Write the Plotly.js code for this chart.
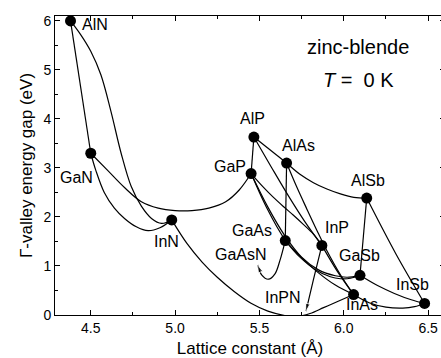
<!DOCTYPE html>
<html>
<head>
<meta charset="utf-8">
<script src="https://cdn.plot.ly/plotly-3.0.1.min.js"></script>
<style>html,body{margin:0;padding:0;overflow:hidden;background:#fff;}#chart{width:450px;height:358px;}</style>
</head>
<body>
<div id="chart"></div>
<script>
// ---- data ----
const compounds = ["AlN","GaN","InN","AlP","GaP","AlAs","GaAs","InP","AlSb","GaSb","InAs","InSb"];
const latticeConst = [4.38, 4.50, 4.98, 5.467, 5.4505, 5.661, 5.653, 5.87, 6.136, 6.096, 6.058, 6.479];
const gapEnergy   = [6.00, 3.30, 1.94, 3.63, 2.886, 3.10, 1.519, 1.42, 2.386, 0.81, 0.417, 0.235];

// alloy curves (lattice constant, gap)
const AlNGaN_x = [4.38, 4.50];                         const AlNGaN_y = [6.00, 3.30];
const AlNInN_x = [4.38, 4.44, 4.50, 4.56, 4.62, 4.68, 4.74, 4.80, 4.86, 4.92, 4.98];
const AlNInN_y = [6.00, 5.72, 5.38, 4.90, 4.15, 3.30, 2.62, 2.22, 1.97, 1.87, 1.94];
const GaNInN_x = [4.50, 4.53, 4.58, 4.64, 4.70, 4.77, 4.84, 4.91, 4.98];
const GaNInN_y = [3.30, 2.95, 2.50, 2.18, 1.97, 1.80, 1.72, 1.78, 1.94];
const GaNGaP_x = [4.50, 4.60, 4.70, 4.80, 4.90, 5.00, 5.10, 5.20, 5.30, 5.38, 5.4505];
const GaNGaP_y = [3.30, 2.95, 2.60, 2.31, 2.18, 2.13, 2.13, 2.18, 2.31, 2.55, 2.886];
const InNInAs_x = [4.98, 5.07, 5.16, 5.25, 5.35, 5.45, 5.55, 5.65, 5.72, 5.80, 5.88, 5.96, 6.058];
const InNInAs_y = [1.94, 1.46, 1.08, 0.77, 0.48, 0.24, 0.08, -0.01, -0.03, 0.03, 0.15, 0.27, 0.417];
const AlPGaP_x = [5.467, 5.4505];                      const AlPGaP_y = [3.63, 2.886];
const AlPAlAs_x = [5.467, 5.661];                      const AlPAlAs_y = [3.63, 3.10];
const AlAsAlSb_x = [5.661, 5.74, 5.82, 5.90, 5.98, 6.06, 6.136];
const AlAsAlSb_y = [3.10, 2.87, 2.70, 2.57, 2.47, 2.40, 2.386];
const AlAsGaAs_x = [5.661, 5.653];                     const AlAsGaAs_y = [3.10, 1.519];
const AlPInP_x = [5.467, 5.57, 5.67, 5.77, 5.87];      const AlPInP_y = [3.63, 3.02, 2.44, 1.90, 1.42];
const AlAsInAs_x = [5.661, 5.72, 5.78, 5.84, 5.90, 5.98, 6.058];
const AlAsInAs_y = [3.10, 2.62, 2.17, 1.73, 1.31, 0.82, 0.417];
const GaPGaAs_x = [5.4505, 5.50, 5.55, 5.60, 5.653];   const GaPGaAs_y = [2.886, 2.50, 2.14, 1.82, 1.519];
const GaPInP_x = [5.4505, 5.52, 5.58, 5.64, 5.70, 5.76, 5.82, 5.87];
const GaPInP_y = [2.886, 2.62, 2.41, 2.22, 2.04, 1.85, 1.65, 1.42];
const GaPGaSb_x = [5.4505, 5.55, 5.65, 5.75, 5.85, 5.95, 6.02, 6.096];
const GaPGaSb_y = [2.886, 2.20, 1.62, 1.18, 0.92, 0.80, 0.77, 0.81];
const GaAsInAs_x = [5.653, 5.75, 5.85, 5.95, 6.058];   const GaAsInAs_y = [1.519, 1.17, 0.86, 0.61, 0.417];
const GaAsGaSb_x = [5.653, 5.74, 5.83, 5.92, 5.98, 6.04, 6.096];
const GaAsGaSb_y = [1.519, 1.18, 0.93, 0.78, 0.74, 0.75, 0.81];
const InPInAs_x = [5.87, 5.96, 6.058];                 const InPInAs_y = [1.42, 0.90, 0.417];
const AlSbGaSb_x = [6.136, 6.096];                     const AlSbGaSb_y = [2.386, 0.81];
const AlSbInSb_x = [6.136, 6.31, 6.479];               const AlSbInSb_y = [2.386, 1.24, 0.235];
const GaSbInSb_x = [6.096, 6.20, 6.30, 6.40, 6.479];   const GaSbInSb_y = [0.81, 0.60, 0.44, 0.31, 0.235];
const InAsInSb_x = [6.058, 6.15, 6.25, 6.35, 6.42, 6.479];
const InAsInSb_y = [0.417, 0.25, 0.16, 0.14, 0.17, 0.235];
const GaAsN_x = [5.653, 5.622, 5.592, 5.553, 5.513, 5.49];
const GaAsN_y = [1.519, 1.12, 0.84, 0.73, 0.82, 1.02];
const InPN_x = [5.87, 5.82, 5.776];                    const InPN_y = [1.42, 0.72, 0.08];

// ---- styling ----
const FONT = "Liberation Sans, Arial, Helvetica, sans-serif";
const lineStyle = {color: "#000", width: 1.2, shape: "spline", smoothing: 1};

const curves = [
  [AlNGaN_x, AlNGaN_y], [AlNInN_x, AlNInN_y], [GaNInN_x, GaNInN_y], [GaNGaP_x, GaNGaP_y],
  [InNInAs_x, InNInAs_y], [AlPGaP_x, AlPGaP_y], [AlPAlAs_x, AlPAlAs_y], [AlAsAlSb_x, AlAsAlSb_y],
  [AlAsGaAs_x, AlAsGaAs_y], [AlPInP_x, AlPInP_y], [AlAsInAs_x, AlAsInAs_y], [GaPGaAs_x, GaPGaAs_y],
  [GaPInP_x, GaPInP_y], [GaPGaSb_x, GaPGaSb_y], [GaAsInAs_x, GaAsInAs_y], [GaAsGaSb_x, GaAsGaSb_y],
  [InPInAs_x, InPInAs_y], [AlSbGaSb_x, AlSbGaSb_y], [AlSbInSb_x, AlSbInSb_y], [GaSbInSb_x, GaSbInSb_y],
  [InAsInSb_x, InAsInSb_y]
];
const traces = curves.map(c => ({
  x: c[0], y: c[1], type: "scatter", mode: "lines", line: lineStyle, hoverinfo: "skip", showlegend: false
}));

function arrowTrace(xs, ys) {
  return {
    x: xs, y: ys, type: "scatter", mode: "lines+markers", line: lineStyle, showlegend: false,
    marker: {symbol: "arrow", angleref: "previous", color: "#000",
             size: xs.map((v, i) => i === xs.length - 1 ? 8 : 0)}
  };
}
traces.push(arrowTrace(GaAsN_x, GaAsN_y));
traces.push(arrowTrace(InPN_x, InPN_y));

traces.push({
  x: latticeConst, y: gapEnergy, type: "scatter", mode: "markers", showlegend: false,
  marker: {color: "#000", size: 11}
});

// label offsets in pixels (style, not data)
const labelShift = {
  AlN: [24, -4], GaN: [-14, -24], InN: [-5, -22], AlP: [-1, 19], GaP: [-21, 7], AlAs: [12, 18],
  GaAs: [-33, 10], InP: [15, 18], AlSb: [1, 18], GaSb: [0, 20], InAs: [8, -10], InSb: [-12, 19]
};
const labelFont = {family: FONT, size: 16, color: "#000"};
const annotations = compounds.map((name, i) => ({
  x: latticeConst[i], y: gapEnergy[i], xref: "x", yref: "y", text: name, showarrow: false,
  xanchor: "center", yanchor: "middle",
  xshift: labelShift[name][0], yshift: labelShift[name][1], font: labelFont
}));
annotations.push({x: GaAsN_x[GaAsN_x.length - 1], y: GaAsN_y[GaAsN_y.length - 1], xref: "x", yref: "y",
  text: "GaAsN", showarrow: false, xanchor: "center", yanchor: "middle", xshift: -17, yshift: 11, font: labelFont});
annotations.push({x: InPN_x[InPN_x.length - 1], y: InPN_y[InPN_y.length - 1], xref: "x", yref: "y",
  text: "InPN", showarrow: false, xanchor: "center", yanchor: "middle", xshift: -23, yshift: 14, font: labelFont});
annotations.push({x: 0.778, y: 0.897, xref: "paper", yref: "paper", text: "zinc-blende", showarrow: false,
  xanchor: "center", yanchor: "middle", font: {family: FONT, size: 20, color: "#000"}});
annotations.push({x: 0.777, y: 0.786, xref: "paper", yref: "paper", text: "<i>T</i> =  0 K", showarrow: false,
  xanchor: "center", yanchor: "middle", font: {family: FONT, size: 20, color: "#000"}});

const axisCommon = {
  showgrid: false, zeroline: false, showline: true, linecolor: "#000", linewidth: 1, mirror: "ticks",
  ticks: "inside", ticklen: 5, tickwidth: 1, tickcolor: "#000",
  tickfont: {family: FONT, size: 14, color: "#000"},
  minor: {ticks: "inside", ticklen: 3, tickwidth: 1, tickcolor: "#000"}
};

const layout = {
  width: 450, height: 358,
  margin: {l: 55, r: 5, t: 16, b: 43},
  paper_bgcolor: "#fff", plot_bgcolor: "#fff",
  font: {family: FONT, color: "#000"},
  showlegend: false,
  xaxis: Object.assign({}, axisCommon, {
    range: [4.288, 6.60], tickvals: [4.5, 5.0, 5.5, 6.0, 6.5], ticktext: ["4.5", "5.0", "5.5", "6.0", "6.5"],
    minor: Object.assign({}, axisCommon.minor, {dtick: 0.25, tick0: 4.25}),
    title: {text: "Lattice constant (Å)", font: {family: FONT, size: 17, color: "#000"}, standoff: 8}
  }),
  yaxis: Object.assign({}, axisCommon, {
    range: [0, 6.1], dtick: 1, tick0: 0,
    minor: Object.assign({}, axisCommon.minor, {dtick: 0.5}),
    title: {text: "Γ-valley energy gap (eV)", font: {family: FONT, size: 17, color: "#000"}, standoff: 6}
  }),
  annotations: annotations
};

Plotly.newPlot("chart", traces, layout, {displayModeBar: false, staticPlot: true});
</script>
</body>
</html>
